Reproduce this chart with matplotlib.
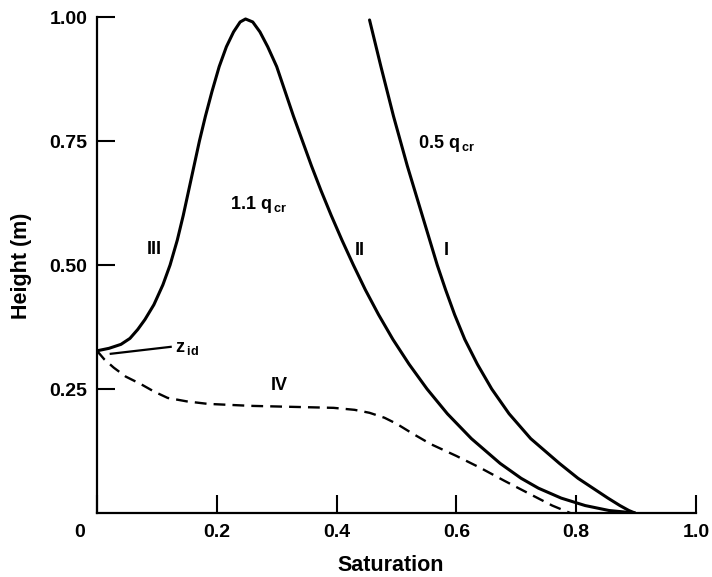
import matplotlib
matplotlib.use("Agg")
from matplotlib import pyplot as plt
from matplotlib.transforms import ScaledTranslation

plt.rcParams["font.family"] = ["Liberation Sans", "DejaVu Sans"]
plt.rcParams["font.weight"] = "bold"
plt.rcParams["mathtext.fontset"] = "custom"
plt.rcParams["mathtext.rm"] = "Liberation Sans:bold"
plt.rcParams["mathtext.it"] = "Liberation Sans:bold"
plt.rcParams["mathtext.bf"] = "Liberation Sans:bold"

# curve III -> II (1.1 q_cr)
sat_11 = [0.0, 0.02, 0.04, 0.055, 0.068, 0.080, 0.095, 0.11, 0.122, 0.134, 0.144,
          0.153, 0.162, 0.171, 0.181, 0.192, 0.204, 0.216, 0.228, 0.239, 0.248,
          0.26, 0.272, 0.285, 0.30, 0.314, 0.328, 0.343, 0.358, 0.374, 0.391,
          0.409, 0.428, 0.448, 0.470, 0.494, 0.521, 0.551, 0.585, 0.625, 0.673,
          0.708, 0.737, 0.775, 0.815, 0.855, 0.898]
h_11 = [0.327, 0.332, 0.340, 0.352, 0.37, 0.39, 0.42, 0.46, 0.50, 0.55, 0.60,
        0.65, 0.70, 0.75, 0.80, 0.85, 0.90, 0.94, 0.97, 0.99, 0.996,
        0.99, 0.97, 0.94, 0.90, 0.85, 0.80, 0.75, 0.70, 0.65, 0.60,
        0.55, 0.50, 0.45, 0.40, 0.35, 0.30, 0.25, 0.20, 0.15, 0.10,
        0.07, 0.05, 0.03, 0.015, 0.005, 0.0]

# curve I (0.5 q_cr)
sat_05 = [0.455, 0.474, 0.495, 0.518, 0.543, 0.568, 0.582, 0.597, 0.614, 0.635,
          0.659, 0.688, 0.724, 0.772, 0.803, 0.828, 0.853, 0.873, 0.888, 0.898]
h_05 = [0.994, 0.90, 0.80, 0.70, 0.60, 0.50, 0.45, 0.40, 0.35, 0.30,
        0.25, 0.20, 0.15, 0.10, 0.07, 0.05, 0.03, 0.015, 0.005, 0.0]

# curve IV (dashed)
sat_iv = [0.0, 0.012, 0.028, 0.048, 0.073, 0.095, 0.118, 0.15, 0.185, 0.257,
          0.395, 0.43, 0.455, 0.48, 0.50, 0.527, 0.557, 0.60, 0.64, 0.68,
          0.723, 0.76, 0.79]
h_iv = [0.327, 0.31, 0.293, 0.275, 0.26, 0.245, 0.232, 0.225, 0.22, 0.216,
        0.212, 0.208, 0.202, 0.192, 0.18, 0.16, 0.139, 0.115, 0.091, 0.065,
        0.038, 0.015, 0.0]

x_ticks = [0, 0.2, 0.4, 0.6, 0.8, 1.0]
x_labels = ["0", "0.2", "0.4", "0.6", "0.8", "1.0"]
y_ticks = [0.25, 0.5, 0.75, 1.0]
y_labels = ["0.25", "0.50", "0.75", "1.00"]

fig = plt.figure(figsize=(7.12, 5.77), dpi=100)
ax = fig.add_axes([97 / 712, 64 / 577, 599 / 712, 496 / 577])

ax.plot(sat_11, h_11, color="black", lw=2.2, solid_capstyle="round", solid_joinstyle="round")
ax.plot(sat_05, h_05, color="black", lw=2.2, solid_capstyle="round", solid_joinstyle="round")
ax.plot(sat_iv, h_iv, color="black", lw=1.7, dashes=(5, 3))
ax.plot([0.023, 0.123], [0.321, 0.335], color="black", lw=1.6)

ax.set_xlim(0, 1.0)
ax.set_ylim(0, 1.0)
ax.spines["top"].set_visible(False)
ax.spines["right"].set_visible(False)
ax.spines["left"].set_linewidth(1.6)
ax.spines["bottom"].set_linewidth(1.6)

ax.set_xticks(x_ticks)
ax.set_xticklabels(x_labels)
ax.set_yticks(y_ticks)
ax.set_yticklabels(y_labels)
ax.tick_params(axis="both", direction="in", length=13, width=1.5, labelsize=14)
ax.tick_params(axis="x", pad=8)
ax.tick_params(axis="y", pad=7)
# corner "0" sits left of the origin
zero = ax.get_xticklabels()[0]
zero.set_transform(zero.get_transform() + ScaledTranslation(-0.17, 0, fig.dpi_scale_trans))

ax.set_xlabel("Saturation", fontsize=15.5, fontweight="bold")
ax.xaxis.set_label_coords(0.49, -0.085)
ax.set_ylabel("Height (m)", fontsize=15.5, fontweight="bold")
ax.yaxis.set_label_coords(-0.1085, 0.498)

ax.text(0.536, 0.736, r"0.5 q$\,_{\rm cr}$", fontsize=13, va="baseline")
ax.text(0.222, 0.613, r"1.1 q$\,_{\rm cr}$", fontsize=13, va="baseline")
ax.text(0.583, 0.53, "I", fontsize=13, ha="center", va="center")
ax.text(0.439, 0.53, "II", fontsize=13, ha="center", va="center")
ax.text(0.095, 0.532, "III", fontsize=13, ha="center", va="center")
ax.text(0.305, 0.258, "IV", fontsize=13, ha="center", va="center")
ax.text(0.13, 0.325, r"z$\,_{\rm id}$", fontsize=13, va="baseline")

fig.savefig("out.png", dpi=100)
